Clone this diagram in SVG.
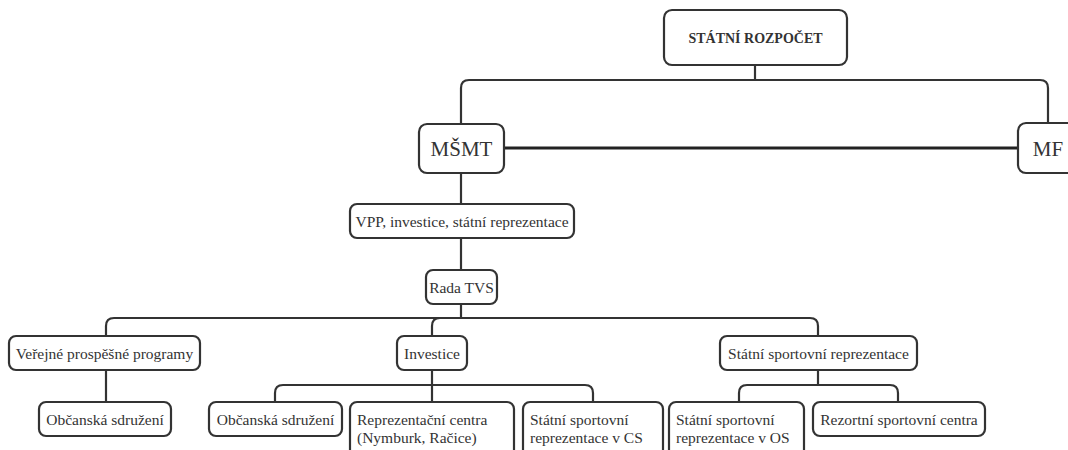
<svg xmlns="http://www.w3.org/2000/svg" width="1068" height="450" viewBox="0 0 1068 450">
<style>
.box{fill:#fff;stroke:#333;stroke-width:2.2}
.t{font-size:15.5px;fill:#333;text-anchor:middle}
.tl{font-size:15.5px;fill:#333}
.c{fill:none;stroke:#333;stroke-width:2.2}
</style>
<rect width="1068" height="450" fill="#fff"/>
<g id="connectors">
<path class="c" d="M755 65 V80"/>
<path class="c" d="M461 124 V88 Q461 80 469 80 H1040 Q1048 80 1048 88 V123"/>
<path d="M504 148 H1018" fill="none" stroke="#222" stroke-width="3"/>
<path class="c" d="M461 173 V204"/>
<path class="c" d="M461 238 V270"/>
<path class="c" d="M461 304 V318"/>
<path class="c" d="M106 336 V326 Q106 318 114 318 H810 Q818 318 818 326 V336"/>
<path class="c" d="M432 336 V326 Q432 318 440 318"/>
<path class="c" d="M106 370 V402"/>
<path class="c" d="M432 370 V402"/>
<path class="c" d="M275 402 V393 Q275 385 283 385 H585 Q593 385 593 393 V402"/>
<path class="c" d="M818 370 V385"/>
<path class="c" d="M739 402 V393 Q739 385 747 385 H890 Q898 385 898 393 V402"/>
</g>
<g font-family="Liberation Serif, DejaVu Serif, serif">
<g id="statni-rozpocet">
<rect class="box" x="664" y="10" width="183" height="55" rx="8"/>
<text class="t" x="755.5" y="43" font-weight="bold" style="font-size:14px">STÁTNÍ ROZPOČET</text>
</g>
<g id="msmt">
<rect class="box" x="419" y="124" width="85" height="49" rx="8"/>
<text class="t" x="461.5" y="155.5" style="font-size:21px">MŠMT</text>
</g>
<g id="mf">
<rect class="box" x="1018" y="123" width="62" height="50" rx="8"/>
<text class="t" x="1048" y="155.5" style="font-size:21px">MF</text>
</g>
<g id="vpp">
<rect class="box" x="350" y="204" width="224" height="34" rx="7"/>
<text class="t" x="462" y="226.5">VPP, investice, státní reprezentace</text>
</g>
<g id="rada-tvs">
<rect class="box" x="426" y="270" width="71" height="34" rx="7"/>
<text class="t" x="461.5" y="292.5">Rada TVS</text>
</g>
<g id="vpp-programy">
<rect class="box" x="9" y="336" width="191" height="34" rx="7"/>
<text class="t" x="104.5" y="358.5">Veřejné prospěšné programy</text>
</g>
<g id="investice">
<rect class="box" x="397" y="336" width="70" height="34" rx="7"/>
<text class="t" x="432" y="358.5">Investice</text>
</g>
<g id="ssr">
<rect class="box" x="720" y="336" width="197" height="34" rx="7"/>
<text class="t" x="818.5" y="358.5">Státní sportovní reprezentace</text>
</g>
<g id="os-1">
<rect class="box" x="39" y="402" width="132" height="34" rx="7"/>
<text class="t" x="105" y="424.5">Občanská sdružení</text>
</g>
<g id="os-2">
<rect class="box" x="209" y="402" width="133" height="34" rx="7"/>
<text class="t" x="275.5" y="424.5">Občanská sdružení</text>
</g>
<g id="repr-centra">
<rect class="box" x="350" y="402" width="164" height="60" rx="7"/>
<text class="tl" x="357" y="425">Reprezentační centra</text>
<text class="tl" x="357" y="443">(Nymburk, Račice)</text>
</g>
<g id="ssr-cs">
<rect class="box" x="523" y="402" width="140" height="60" rx="7"/>
<text class="tl" x="530" y="425">Státní sportovní</text>
<text class="tl" x="530" y="443">reprezentace v CS</text>
</g>
<g id="ssr-os">
<rect class="box" x="669" y="402" width="135" height="60" rx="7"/>
<text class="tl" x="676" y="425">Státní sportovní</text>
<text class="tl" x="676" y="443">reprezentace v OS</text>
</g>
<g id="rezortni">
<rect class="box" x="813" y="402" width="172" height="34" rx="7"/>
<text class="t" x="899" y="424.5">Rezortní sportovní centra</text>
</g>
</g>
</svg>
